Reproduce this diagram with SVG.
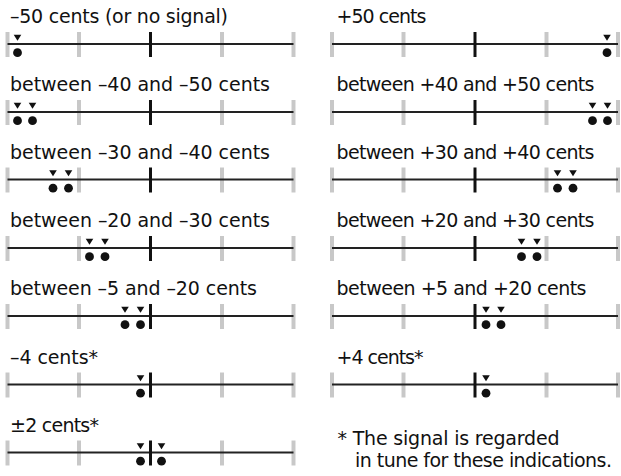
<svg xmlns="http://www.w3.org/2000/svg" xmlns:xlink="http://www.w3.org/1999/xlink" width="621" height="476" viewBox="0 0 621 476">
<style>
text{font-family:"DejaVu Sans","Liberation Sans",sans-serif;font-size:19px;fill:#111}
.g{stroke:#c8c8c8;stroke-width:4}
.ln{stroke:#222;stroke-width:2}
.c{stroke:#111;stroke-width:3}
.led{fill:#111}
</style>
<defs>
<g id="scale">
<line class="g" x1="-143" y1="-12" x2="-143" y2="13"/>
<line class="g" x1="-71.5" y1="-12" x2="-71.5" y2="13"/>
<line class="g" x1="71.5" y1="-12" x2="71.5" y2="13"/>
<line class="g" x1="143" y1="-12" x2="143" y2="13"/>
<line class="ln" x1="-143" y1="0" x2="143" y2="0"/>
<line class="c" x1="0" y1="-12" x2="0" y2="13"/>
</g>
<g id="led" class="led">
<path d="M-3.8,-9.3 L3.8,-9.3 L0,-3.2 Z"/>
<circle cx="0" cy="8.7" r="4.4"/>
</g>
</defs>

<g id="row-m50" transform="translate(150.5,44)">
<text x="-140.5" y="-21" textLength="218">–50 cents (or no signal)</text>
<use xlink:href="#scale"/>
<use xlink:href="#led" x="-133"/>
</g>
<g id="row-m40" transform="translate(150.5,112)">
<text x="-140.5" y="-21" textLength="260">between –40 and –50 cents</text>
<use xlink:href="#scale"/>
<use xlink:href="#led" x="-133"/>
<use xlink:href="#led" x="-118"/>
</g>
<g id="row-m30" transform="translate(150.5,179.5)">
<text x="-140.5" y="-21" textLength="260">between –30 and –40 cents</text>
<use xlink:href="#scale"/>
<use xlink:href="#led" x="-97.5"/>
<use xlink:href="#led" x="-82"/>
</g>
<g id="row-m20" transform="translate(150.5,248)">
<text x="-140.5" y="-21" textLength="260">between –20 and –30 cents</text>
<use xlink:href="#scale"/>
<use xlink:href="#led" x="-61"/>
<use xlink:href="#led" x="-45.5"/>
</g>
<g id="row-m5" transform="translate(150.5,316)">
<text x="-140.5" y="-21" textLength="247">between –5 and –20 cents</text>
<use xlink:href="#scale"/>
<use xlink:href="#led" x="-25.5"/>
<use xlink:href="#led" x="-10"/>
</g>
<g id="row-m4" transform="translate(150.5,384.5)">
<text x="-140.5" y="-21" textLength="88">–4 cents*</text>
<use xlink:href="#scale"/>
<use xlink:href="#led" x="-10"/>
</g>
<g id="row-pm2" transform="translate(150.5,452.5)">
<text x="-140.5" y="-21" textLength="89">±2 cents*</text>
<use xlink:href="#scale"/>
<use xlink:href="#led" x="-10"/>
<use xlink:href="#led" x="11"/>
</g>

<g id="row-p50" transform="translate(475,44)">
<text x="-138.5" y="-21" textLength="90">+50 cents</text>
<use xlink:href="#scale"/>
<use xlink:href="#led" x="132"/>
</g>
<g id="row-p40" transform="translate(475,112)">
<text x="-138.5" y="-21" textLength="258">between +40 and +50 cents</text>
<use xlink:href="#scale"/>
<use xlink:href="#led" x="117.5"/>
<use xlink:href="#led" x="132.5"/>
</g>
<g id="row-p30" transform="translate(475,179.5)">
<text x="-138.5" y="-21" textLength="258">between +30 and +40 cents</text>
<use xlink:href="#scale"/>
<use xlink:href="#led" x="82.5"/>
<use xlink:href="#led" x="98"/>
</g>
<g id="row-p20" transform="translate(475,248)">
<text x="-138.5" y="-21" textLength="258">between +20 and +30 cents</text>
<use xlink:href="#scale"/>
<use xlink:href="#led" x="46.5"/>
<use xlink:href="#led" x="62"/>
</g>
<g id="row-p5" transform="translate(475,316)">
<text x="-138.5" y="-21" textLength="250">between +5 and +20 cents</text>
<use xlink:href="#scale"/>
<use xlink:href="#led" x="11"/>
<use xlink:href="#led" x="26"/>
</g>
<g id="row-p4" transform="translate(475,384.5)">
<text x="-138.5" y="-21" textLength="87">+4 cents*</text>
<use xlink:href="#scale"/>
<use xlink:href="#led" x="11"/>
</g>

<g id="footnote">
<text x="337.5" y="445" textLength="222">* The signal is regarded</text>
<text x="355" y="467" textLength="257">in tune for these indications.</text>
</g>
<g id="connectors"/>
</svg>
